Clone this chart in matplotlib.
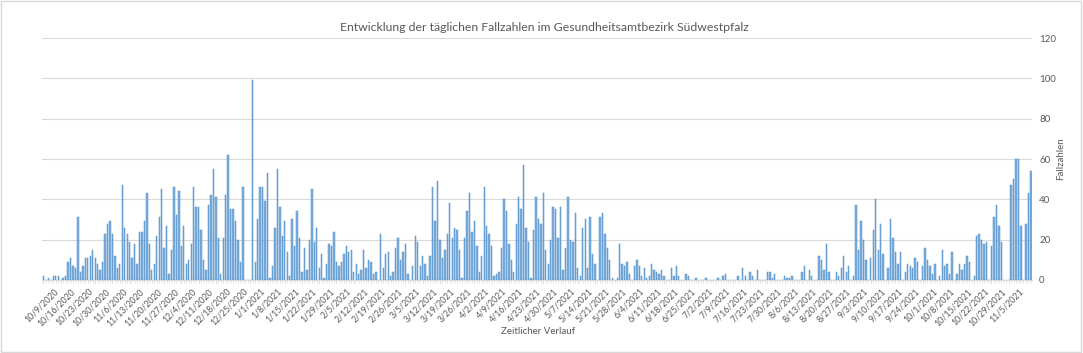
import numpy as np
import pandas as pd
import matplotlib

matplotlib.use("Agg")
import matplotlib.pyplot as plt
import matplotlib.transforms as mtransforms

plt.rcParams["font.family"] = ["Lato", "DejaVu Sans"]

# daily case counts, one value per day starting 10/9/2020
start_date = "2020-10-09"
last_label = "2021-11-05"
cases = [
    2, 0, 1, 0, 2, 2, 2, 0, 1, 2,
    9, 11, 7, 6, 31, 4, 7, 11, 11, 12, 15, 11, 8, 5, 9, 23, 28, 29, 23, 12,
    6, 8, 47, 26, 23, 19, 11, 18, 8, 24, 24, 29,
    43, 18, 5, 8, 22, 31, 45, 16, 27, 3, 15, 46, 32, 44, 17, 27, 8, 10, 18, 46,
    36, 36, 25, 10, 5, 37, 42, 55, 41, 21, 3, 21, 42, 62, 35, 35, 29, 20, 9, 46,
    0, 0, 0,
    99, 9, 30, 46, 46, 39, 53, 1, 7, 26, 55, 36, 22, 29, 14, 2, 30, 17, 34, 21,
    4, 16, 5, 20, 45, 19, 26, 6, 13, 1, 8, 18, 17, 24, 9, 7, 9, 13, 17, 14,
    15, 4, 8, 3, 5, 15, 6, 10, 9, 3, 4, 0, 23, 6, 13, 14, 2, 4, 16, 21,
    10, 14, 18, 3, 0, 7, 22, 19, 7, 12, 8, 2, 12, 46, 29, 49, 20, 11, 15, 23, 38,
    21, 26, 25, 15, 1, 21, 34, 43, 24, 29, 17, 4, 12, 46, 27, 23, 17, 2, 3, 4,
    16, 40, 34, 18, 10, 4, 28, 41, 35, 57, 26, 19, 1, 25, 41, 30, 28, 43, 15, 8, 20,
    36, 35, 21, 36, 5, 16, 41, 20, 19, 33, 6, 2, 26, 30, 6, 31, 13, 8, 0, 31,
    33, 23, 16, 10, 1, 0, 1, 18, 8, 7, 9, 3, 0, 7, 10, 7, 2, 6, 1, 2,
    8, 5, 4, 3, 5, 2, 0, 0, 6, 2, 7, 2, 0, 0, 3, 2, 0, 0, 1, 0,
    0, 0, 1, 0, 0, 0, 0, 1, 0, 2, 3, 0, 0, 0, 0, 2, 0, 6, 2,
    0, 4, 2, 0, 5, 0, 0, 0, 4, 4, 1, 3, 0, 0, 0, 2, 1, 1, 2, 0,
    0, 0, 4, 7, 0, 5, 2, 0, 0, 12, 10, 5, 18, 4, 0, 0, 4, 2, 6, 12, 4, 7,
    0, 2, 37, 15, 29, 20, 10, 0, 11, 25, 40, 15, 28, 13, 0, 6, 30, 21, 14, 8,
    14, 0, 4, 8, 7, 6, 11, 9, 0, 7, 16, 10, 7, 3, 8, 0, 2, 15, 7, 8, 3,
    14, 0, 3, 8, 5, 8, 12, 9, 0, 2, 22, 23, 20, 18, 19, 0, 17, 31, 37, 27, 19,
    0, 0, 0, 47, 50, 60, 60, 27, 0, 28, 43, 54,
]
y_ticks = [0, 20, 40, 60, 80, 100, 120]

title = "Entwicklung der täglichen Fallzahlen im Gesundheitsamtbezirk Südwestpfalz"
x_label = "Zeitlicher Verlauf"
y_label = "Fallzahlen"

dates = pd.date_range(start_date, periods=len(cases), freq="D")
x = np.arange(len(cases))
weekly = (np.arange(len(cases)) % 7 == 0) & (dates <= pd.Timestamp(last_label))
tick_pos = x[weekly]
tick_labels = [f"{d.month}/{d.day}/{d.year}" for d in dates[weekly]]

txt = "#595959"
grid = "#d9d9d9"

fig = plt.figure(figsize=(10.83, 3.53), dpi=100)
ax = fig.add_axes([0.039, 0.207, 0.914, 0.685])

ax.bar(x, cases, width=0.55, color="#7eb0e0", edgecolor="#4f8cc9", linewidth=0.35, zorder=3)

ax.set_xlim(-0.5, len(cases) - 0.5)
ax.set_ylim(0, 120)
ax.yaxis.tick_right()
ax.set_yticks(y_ticks)
ax.tick_params(axis="y", length=0, labelsize=7, colors=txt, pad=5)
ax.grid(axis="y", color=grid, linewidth=0.8, zorder=0)

ax.set_xticks(tick_pos)
ax.set_xticklabels(tick_labels, rotation=45, ha="right", rotation_mode="anchor")
ax.set_xticks(x, minor=True)
ax.tick_params(axis="x", which="major", length=3, width=0.6, labelsize=6.3,
               labelcolor=txt, color=grid, pad=2)
ax.tick_params(axis="x", which="minor", length=2, width=0.5, color=grid)

# Excel puts the rotated labels a little right of the tick
shift = mtransforms.ScaledTranslation(10 / 100, 0, fig.dpi_scale_trans)
for lab in ax.get_xticklabels():
    lab.set_transform(lab.get_transform() + shift)

for s in ["top", "left", "right"]:
    ax.spines[s].set_visible(False)
ax.spines["bottom"].set_color(grid)

fig.text(0.497, 0.062, x_label, fontsize=7, color=txt, ha="center", va="center")
fig.text(0.979, 0.55, y_label, fontsize=7, color=txt, ha="center", va="center", rotation=90)
fig.text(0.503, 0.923, title, fontsize=8.8, color=txt, ha="center", va="center")

# light frame around the whole chart area
fig.patches.append(plt.Rectangle((0.001, 0.002), 0.997, 0.995, transform=fig.transFigure,
                                 fill=False, edgecolor="#d9d9d9", linewidth=1))

fig.savefig("out.png", dpi=100)
